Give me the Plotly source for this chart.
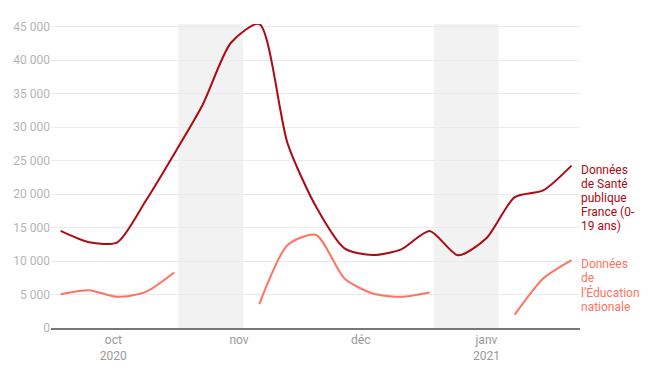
import plotly.graph_objects as go

dates = ["2020-09-18", "2020-09-25", "2020-10-02", "2020-10-09", "2020-10-16",
         "2020-10-23", "2020-10-30", "2020-11-06", "2020-11-13", "2020-11-20",
         "2020-11-27", "2020-12-04", "2020-12-11", "2020-12-18", "2020-12-25",
         "2021-01-01", "2021-01-08", "2021-01-15", "2021-01-22"]
spf = [14500, 12800, 12800, 19000, 26000, 33300, 42600, 45400, 27500, 18100,
       11900, 10900, 11750, 14500, 10850, 13400, 19550, 20550, 24250]
edu = [5050, 5650, 4650, 5400, 8300, None, None, 3550, 12400, 13900,
       7400, 5150, 4650, 5300, None, None, 2000, 7400, 10150]
holidays = [("2020-10-17", "2020-11-02"), ("2020-12-19", "2021-01-04")]
tick_vals = ["2020-10-01", "2020-11-01", "2020-12-01", "2021-01-01"]
tick_text = ["oct<br>2020", "nov", "déc", "janv<br>2021"]
label_spf = ["Données", "de Santé", "publique", "France (0-", "19 ans)"]
label_edu = ["Données", "de", "l’Éducation", "nationale"]

DARK = "#ae0a14"
ORANGE = "#ff7360"
FONT = "Roboto"

fig = go.Figure()
fig.add_trace(go.Scatter(x=dates, y=spf, mode="lines",
                         line=dict(color=DARK, width=2, shape="spline", smoothing=0.7),
                         hoverinfo="skip"))
fig.add_trace(go.Scatter(x=dates, y=edu, mode="lines", connectgaps=False,
                         line=dict(color=ORANGE, width=2, shape="spline", smoothing=0.7),
                         hoverinfo="skip"))

shapes = []
for a, b in holidays:
    shapes.append(dict(type="rect", xref="x", yref="paper", x0=a, x1=b, y0=0, y1=1,
                       fillcolor="#f2f2f2", line=dict(width=0), layer="below"))

annotations = []
for lines, series, color in ((label_spf, spf, DARK), (label_edu, edu, ORANGE)):
    last = [v for v in series if v is not None][-1]
    for i, t in enumerate(lines):
        annotations.append(dict(text=t, xref="paper", x=1, yref="y", y=last,
                                xanchor="left", yanchor="middle", showarrow=False,
                                xshift=-1, yshift=-4 - i * 14.2,
                                font=dict(family=FONT, size=12, color=color)))

fig.update_layout(
    width=661, height=381,
    margin=dict(l=51, r=81, t=24, b=53),
    paper_bgcolor="white", plot_bgcolor="white",
    showlegend=False,
    separators=", ",
    font=dict(family=FONT, size=12),
    shapes=shapes,
    annotations=annotations,
    xaxis=dict(type="date", range=["2020-09-15 15:00", "2021-01-24 02:00"],
               tickvals=tick_vals, ticktext=tick_text, showgrid=False,
               showline=True, linecolor="#777777", linewidth=1.5,
               ticks="", tickfont=dict(family=FONT, size=12, color="#999999"),
               zeroline=False, fixedrange=True),
    yaxis=dict(range=[0, 45400], tickvals=[0, 5000, 10000, 15000, 20000, 25000,
                                           30000, 35000, 40000, 45000],
               tickformat=",d", showgrid=True, gridcolor="#ebebeb", gridwidth=1,
               zeroline=False, showline=False, ticks="",
               tickfont=dict(family=FONT, size=12, color="#b5b5b5"), fixedrange=True),
)

fig.write_html("out.html")
